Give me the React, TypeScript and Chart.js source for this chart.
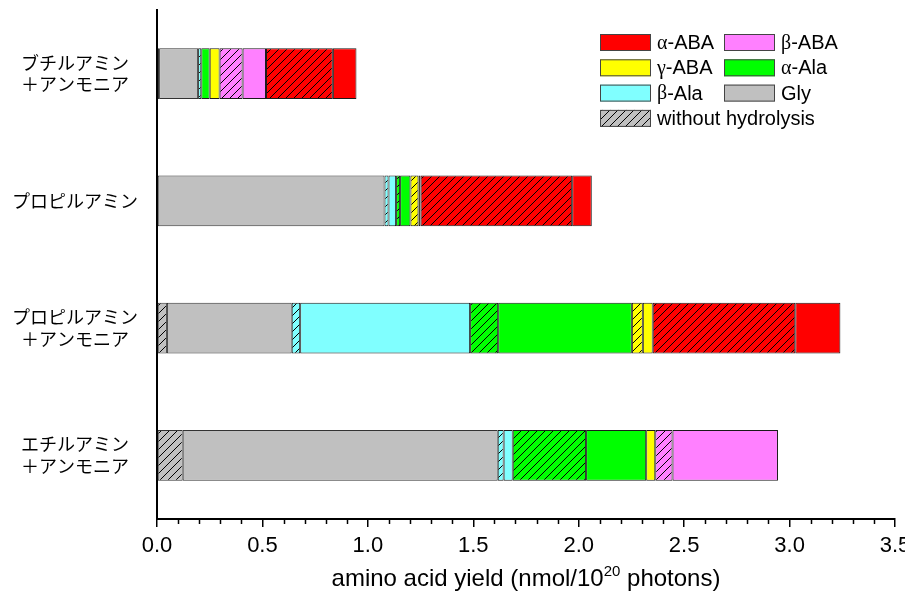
import { useEffect, useRef } from "react";
import { Chart, registerables } from "chart.js";

Chart.register(...registerables);

// Categories (top to bottom)
const categories: (string | string[])[] = [
  ["ブチルアミン", "＋アンモニア"],
  "プロピルアミン",
  ["プロピルアミン", "＋アンモニア"],
  ["エチルアミン", "＋アンモニア"],
];

// Series values (nmol / 10^20 photons); "Hyd" = without hydrolysis part
const glyHyd = [0.01, null, 0.047, 0.122];
const gly = [0.185, 1.079, 0.592, 1.494];
const bAlaHyd = [0.015, 0.019, 0.04, 0.028];
const bAla = [null, 0.036, 0.806, 0.043];
const aAlaHyd = [null, 0.019, 0.133, 0.348];
const aAla = [0.04, 0.049, 0.634, 0.285];
const gAbaHyd = [null, 0.038, 0.052, null];
const gAba = [0.047, 0.01, 0.047, 0.043];
const bAbaHyd = [0.109, null, null, 0.082];
const bAba = [0.111, null, null, 0.5];
const aAbaHyd = [0.317, 0.719, 0.676, null];
const aAba = [0.112, 0.093, 0.214, null];

const xMin = 0;
const xMax = 3.5;
const xStep = 0.5;
const xMinorStep = 0.1;

const RED = "#FF0000";
const PINK = "#FF80FF";
const YELLOW = "#FFFF00";
const GREEN = "#00FF00";
const CYAN = "#80FFFF";
const GRAY = "#C0C0C0";

const SANS = "'Liberation Sans', Arial, sans-serif";
const SERIF = "'Liberation Serif', 'Times New Roman', serif";
const CJK = "'Noto Sans CJK JP', sans-serif";

function hatch(color: string): CanvasPattern | string {
  const c = document.createElement("canvas");
  c.width = 8;
  c.height = 8;
  const g = c.getContext("2d");
  if (!g) return color;
  g.fillStyle = color;
  g.fillRect(0, 0, 8, 8);
  g.strokeStyle = "#000";
  g.lineWidth = 1;
  g.beginPath();
  g.moveTo(-1, 9);
  g.lineTo(9, -1);
  g.moveTo(-1, 1);
  g.lineTo(1, -1);
  g.moveTo(7, 9);
  g.lineTo(9, 7);
  g.stroke();
  return g.createPattern(c, "repeat") || color;
}

type Seg = { t: string; serif?: boolean };
const legendItems: { label: Seg[]; color: string; hatched?: boolean }[] = [
  { label: [{ t: "α", serif: true }, { t: "-ABA" }], color: RED },
  { label: [{ t: "β", serif: true }, { t: "-ABA" }], color: PINK },
  { label: [{ t: "γ", serif: true }, { t: "-ABA" }], color: YELLOW },
  { label: [{ t: "α", serif: true }, { t: "-Ala" }], color: GREEN },
  { label: [{ t: "β", serif: true }, { t: "-Ala" }], color: CYAN },
  { label: [{ t: "Gly" }], color: GRAY },
  { label: [{ t: "without hydrolysis" }], color: GRAY, hatched: true },
];

export default function App() {
  const ref = useRef<HTMLCanvasElement | null>(null);

  useEffect(() => {
    if (!ref.current) return;
    const mk = (data: (number | null)[], bg: any, border = "#1a1a1a") => ({
      data,
      backgroundColor: bg,
      borderColor: border,
      borderWidth: 1,
      borderSkipped: false as const,
      barPercentage: 0.4,
      categoryPercentage: 1,
    });

    const decorPlugin = {
      id: "decor",
      afterDraw(chart: any) {
        const ctx: CanvasRenderingContext2D = chart.ctx;
        const area = chart.chartArea;
        const xs = chart.scales.x;
        // minor ticks
        ctx.save();
        ctx.strokeStyle = "#000";
        ctx.lineWidth = 1.5;
        const nMinor = Math.round((xMax - xMin) / xMinorStep);
        const per = Math.round(xStep / xMinorStep);
        for (let i = 0; i <= nMinor; i++) {
          if (i % per === 0) continue;
          const px = Math.round(xs.getPixelForValue(xMin + i * xMinorStep)) + 0.5;
          ctx.beginPath();
          ctx.moveTo(px, area.bottom);
          ctx.lineTo(px, area.bottom + 5);
          ctx.stroke();
        }
        ctx.restore();

        // x title with superscript
        ctx.save();
        ctx.fillStyle = "#000";
        ctx.textBaseline = "alphabetic";
        const mainFont = `24px ${SANS}`;
        const supFont = `15px ${SANS}`;
        const p1 = "amino acid yield (nmol/10";
        const p2 = "20";
        const p3 = " photons)";
        ctx.font = mainFont;
        const w1 = ctx.measureText(p1).width;
        const w3 = ctx.measureText(p3).width;
        ctx.font = supFont;
        const w2 = ctx.measureText(p2).width;
        const total = w1 + w2 + w3;
        let tx = (area.left + area.right) / 2 - total / 2;
        const ty = 586;
        ctx.font = mainFont;
        ctx.textAlign = "left";
        ctx.fillText(p1, tx, ty);
        tx += w1;
        ctx.font = supFont;
        ctx.fillText(p2, tx, ty - 10);
        tx += w2;
        ctx.font = mainFont;
        ctx.fillText(p3, tx, ty);
        ctx.restore();

        // legend
        ctx.save();
        const bx1 = area.right - 295;
        const bx2 = area.right - 171;
        const top0 = area.top + 24;
        const rowH = 25.3;
        const bw = 51;
        const bh = 17;
        legendItems.forEach((it, i) => {
          const row = Math.floor(i / 2);
          const col = i % 2;
          const bx = col === 0 ? bx1 : bx2;
          const by = top0 + row * rowH;
          ctx.fillStyle = it.hatched ? (hatch(it.color) as any) : it.color;
          ctx.fillRect(bx, by, bw, bh);
          ctx.strokeStyle = "#444";
          ctx.lineWidth = 1;
          ctx.strokeRect(bx + 0.5, by + 0.5, bw - 1, bh - 1);
          let tx2 = bx + bw + 6;
          ctx.fillStyle = "#000";
          ctx.textBaseline = "middle";
          ctx.textAlign = "left";
          for (const s of it.label) {
            ctx.font = s.serif ? `20px ${SERIF}` : `20px ${SANS}`;
            ctx.fillText(s.t, tx2, by + bh / 2 + 1);
            tx2 += ctx.measureText(s.t).width;
          }
        });
        ctx.restore();
      },
    };

    const chart = new Chart(ref.current, {
      type: "bar",
      data: {
        labels: categories as any,
        datasets: [
          mk(glyHyd, hatch(GRAY), "#333"),
          mk(gly, GRAY, "#333"),
          mk(bAlaHyd, hatch(CYAN)),
          mk(bAla, CYAN),
          mk(aAlaHyd, hatch(GREEN)),
          mk(aAla, GREEN),
          mk(gAbaHyd, hatch(YELLOW)),
          mk(gAba, YELLOW),
          mk(bAbaHyd, hatch(PINK)),
          mk(bAba, PINK),
          mk(aAbaHyd, hatch(RED)),
          mk(aAba, RED),
        ] as any,
      },
      options: {
        indexAxis: "y",
        responsive: false,
        animation: false,
        layout: { padding: { left: 0, right: 10, top: 10, bottom: 0 } },
        plugins: {
          legend: { display: false },
          tooltip: { enabled: false },
        },
        scales: {
          x: {
            type: "linear",
            stacked: true,
            min: xMin,
            max: xMax,
            ticks: {
              stepSize: xStep,
              callback: (v: any) => Number(v).toFixed(1),
              color: "#000",
              font: { family: SANS, size: 22 },
              padding: 6,
              maxRotation: 0,
              autoSkip: false,
            },
            grid: {
              drawOnChartArea: false,
              drawTicks: true,
              tickLength: 8,
              color: "#000",
              lineWidth: 1.5,
            },
            border: { color: "#000", width: 2 },
            afterFit: (s: any) => {
              s.height = 77;
              s.paddingLeft = 0;
              s.paddingRight = 0;
            },
          },
          y: {
            stacked: true,
            ticks: {
              color: "#000",
              font: { family: CJK, size: 18, lineHeight: 1.2 },
              crossAlign: "center",
              padding: 19,
            },
            grid: { drawOnChartArea: false, drawTicks: false },
            border: { color: "#000", width: 2 },
            afterFit: (s: any) => {
              s.width = 157;
              s.paddingTop = 0;
              s.paddingBottom = 0;
            },
          },
        },
      } as any,
      plugins: [decorPlugin],
    });
    return () => chart.destroy();
  }, []);

  return (
    <div style={{ position: "absolute", left: 0, top: 0, width: 905, height: 596, background: "#fff" }}>
      <canvas ref={ref} width={905} height={596} style={{ width: 905, height: 596, display: "block" }} />
    </div>
  );
}
